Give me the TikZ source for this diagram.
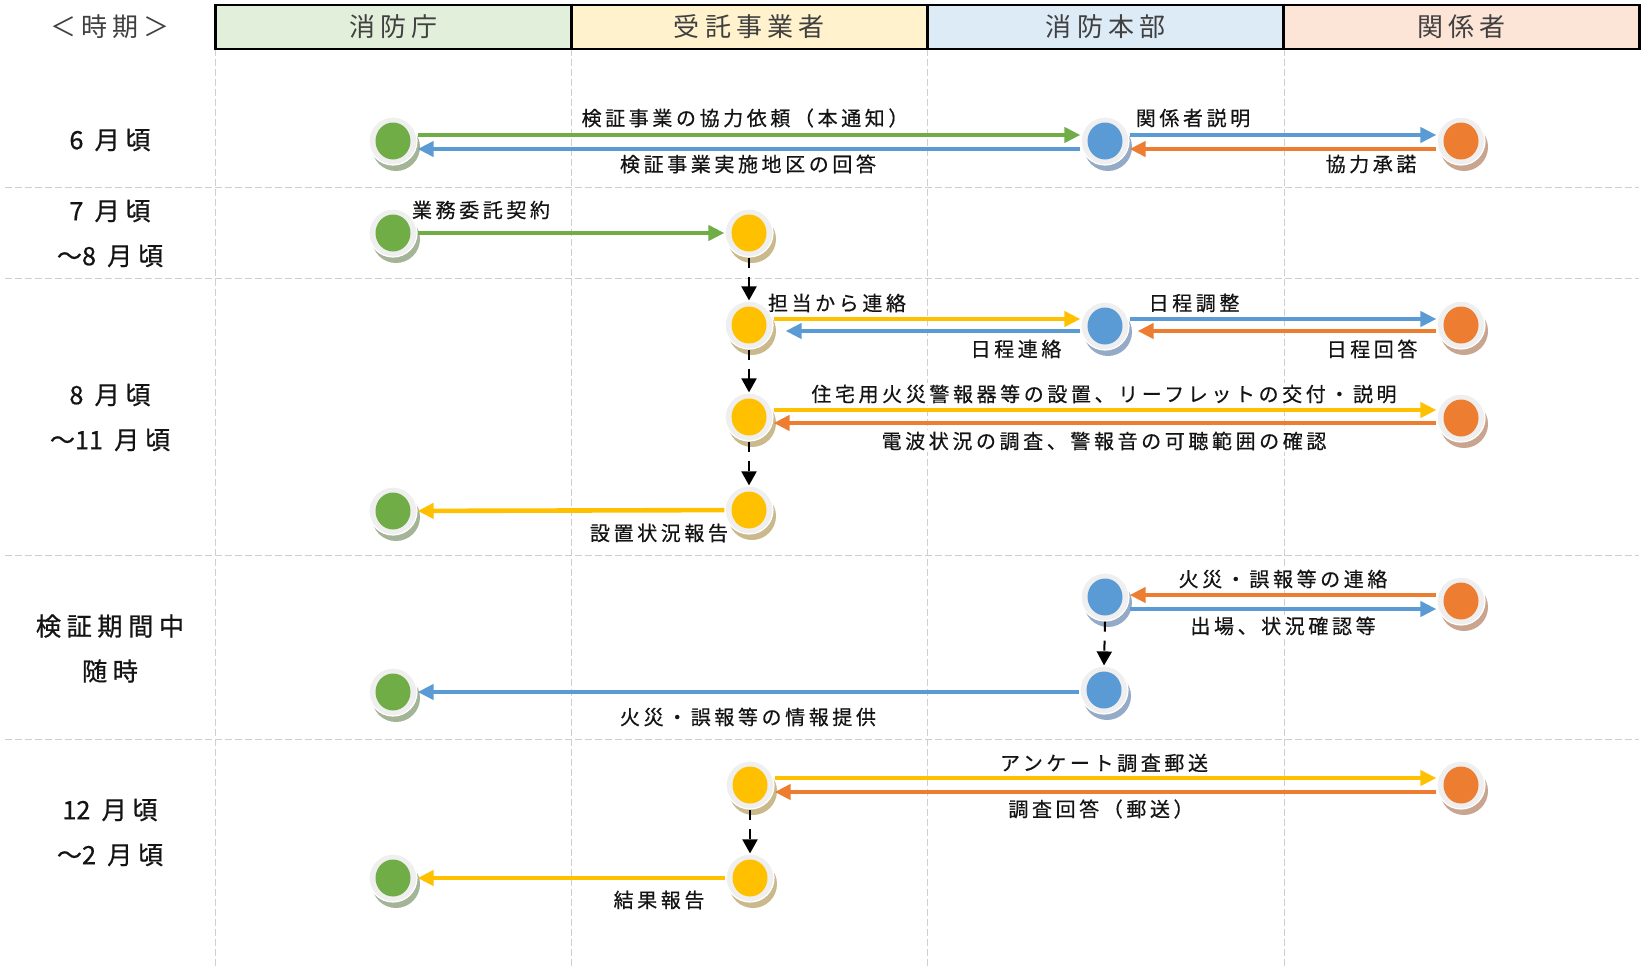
\documentclass[tikz,border=0pt]{standalone}
\usepackage{fontspec}
\setmainfont{Noto Sans CJK JP}
\newfontfamily\lblfont[LetterSpace=18,FakeBold=0.5]{Noto Sans CJK JP}
\newfontfamily\perfont[LetterSpace=22,FakeBold=0.7]{Noto Sans CJK JP}
\newfontfamily\perdig[FakeBold=0.7]{Noto Sans CJK JP}
\newfontfamily\hdrfont[LetterSpace=20]{Noto Sans CJK JP}
\newcommand\dg[1]{{\perdig #1}}
\usetikzlibrary{arrows.meta,calc,shadows}
\definecolor{cg}{HTML}{70AD47}
\definecolor{cy}{HTML}{FFC000}
\definecolor{cb}{HTML}{5B9BD5}
\definecolor{co}{HTML}{ED7D31}
\definecolor{sg}{HTML}{A4B497}
\definecolor{sy}{HTML}{C9B98B}
\definecolor{sb}{HTML}{94AAC6}
\definecolor{so}{HTML}{C9A48E}
\definecolor{ringc}{HTML}{EFEFEF}
\definecolor{hg}{HTML}{E2EFDA}
\definecolor{hy}{HTML}{FFF2CC}
\definecolor{hb}{HTML}{DDEBF7}
\definecolor{ho}{HTML}{FCE4D6}
\definecolor{gridc}{HTML}{CFCFCF}
\definecolor{txt}{HTML}{141414}
\definecolor{htxt}{HTML}{404040}
\tikzset{
  dot/.style 2 args={circle, minimum size=24pt, inner sep=0pt, fill=ringc, draw=white, line width=0.6pt,
    drop shadow={shadow xshift=1.5pt, shadow yshift=-3pt, fill=#2, opacity=1, draw=none},
    path picture={\fill[#1] (path picture bounding box.center) ellipse [x radius=8.75pt, y radius=9.25pt];}},
  ar/.style={line width=2.3pt, -{Triangle[length=8pt,width=7.5pt]}},
  flow/.style={black, line width=1pt, dash pattern=on 5pt off 4.5pt, -{Triangle[length=7pt,width=7.5pt]}},
  lab/.style={font=\lblfont\fontsize{10pt}{12pt}\selectfont, text=txt, inner sep=1pt, fill=white},
  per/.style={font=\perfont\fontsize{12.6pt}{22.5pt}\selectfont, text=txt, align=center, inner sep=0pt},
  hcell/.style={draw=black, line width=1.25pt, minimum width=177.9pt, minimum height=22pt, inner sep=0pt,
    font=\hdrfont\fontsize{13pt}{14pt}\selectfont, text=htxt},
  gridline/.style={gridc, line width=0.5pt, dash pattern=on 3.5pt off 1.5pt}
}
\begin{document}
\begin{tikzpicture}[x=0.5pt,y=-0.5pt]
\useasboundingbox (0,0) rectangle (1641,969);
% grid
\draw[gridline] (5,187.5) -- (1639,187.5);
\draw[gridline] (5,278.5) -- (1639,278.5);
\draw[gridline] (5,555) -- (1639,555);
\draw[gridline] (5,739) -- (1639,739);
\draw[gridline] (215.6,49) -- (215.6,969);
\draw[gridline] (571.4,49) -- (571.4,969);
\draw[gridline] (927.3,49) -- (927.3,969);
\draw[gridline] (1284.2,49) -- (1284.2,969);
% header
\node[hcell, fill=hg] (h1) at (393.5,27) {消防庁};
\node[hcell, fill=hy] (h2) at (749.35,27) {受託事業者};
\node[hcell, fill=hb] (h3) at (1105.75,27) {消防本部};
\node[hcell, fill=ho] (h4) at (1461.6,27) {関係者};
\node[font=\hdrfont\fontsize{13pt}{14pt}\selectfont, text=htxt] (hp) at (110,27) {＜時期＞};
% period labels
\node[per] (p1) at (110,140) {\dg{6} 月頃};
\node[per] (p2) at (110,233.5) {7 月頃\\～\dg{8} 月頃};
\node[per] (p3) at (110,417.5) {\dg{8} 月頃\\～\dg{11} 月頃};
\node[per] (p4) at (110,648.5) {検証期間中\\随時};
\node[per] (p5) at (110,832.5) {\dg{12} 月頃\\～\dg{2} 月頃};
% labels
\node[lab] (l1a) at (745,118) {検証事業の協力依頼（本通知）};
\node[lab] (l1b) at (748,164) {検証事業実施地区の回答};
\node[lab] (l1c) at (1193,118) {関係者説明};
\node[lab] (l1d) at (1371,164) {協力承諾};
\node[lab] (l2) at (481,210) {業務委託契約};
\node[lab] (l3a) at (837,303) {担当から連絡};
\node[lab] (l3b) at (1016,349) {日程連絡};
\node[lab] (l3c) at (1194,303) {日程調整};
\node[lab] (l3d) at (1372,349) {日程回答};
\node[lab] (l3e) at (1104,394) {住宅用火災警報器等の設置、リーフレットの交付・説明};
\node[lab] (l3f) at (1104,441) {電波状況の調査、警報音の可聴範囲の確認};
\node[lab] (l3g) at (659,533) {設置状況報告};
\node[lab] (l4a) at (1283,579) {火災・誤報等の連絡};
\node[lab] (l4b) at (1283,626) {出場、状況確認等};
\node[lab] (l4c) at (748,717) {火災・誤報等の情報提供};
\node[lab] (l5a) at (1104,763) {アンケート調査郵送};
\node[lab] (l5b) at (1101,809) {調査回答（郵送）};
\node[lab] (l5c) at (659,900) {結果報告};
% nodes
\node[dot={cg}{sg}] (G1) at (393,141) {};
\node[dot={cb}{sb}] (B1) at (1105,141) {};
\node[dot={co}{so}] (O1) at (1461,141) {};
\node[dot={cg}{sg}] (G2) at (393,233) {};
\node[dot={cy}{sy}] (Y2) at (749,233) {};
\node[dot={cy}{sy}] (Y3) at (749,325) {};
\node[dot={cb}{sb}] (B3) at (1105,326) {};
\node[dot={co}{so}] (O3) at (1461,325) {};
\node[dot={cy}{sy}] (Y4) at (749,417) {};
\node[dot={co}{so}] (O4) at (1461,418) {};
\node[dot={cg}{sg}] (G5) at (393,511) {};
\node[dot={cy}{sy}] (Y5) at (749,510) {};
\node[dot={cb}{sb}] (B6) at (1105,597) {};
\node[dot={co}{so}] (O6) at (1461,601) {};
\node[dot={cg}{sg}] (G7) at (393,692) {};
\node[dot={cb}{sb}] (B7) at (1104,690) {};
\node[dot={cy}{sy}] (Y8) at (750,785) {};
\node[dot={co}{so}] (O8) at (1461,785) {};
\node[dot={cg}{sg}] (G9) at (393,878) {};
\node[dot={cy}{sy}] (Y9) at (750,878) {};
% arrows
\draw[ar,cg] ($(G1.east)+(0,-6)$) -- ($(B1.west)+(0,-6)$);
\draw[ar,cb] ($(B1.west)+(0,8)$) -- ($(G1.east)+(0,8)$);
\draw[ar,cb] ($(B1.east)+(0,-6)$) -- ($(O1.west)+(0,-6)$);
\draw[ar,co] ($(O1.west)+(0,8)$) -- ($(B1.east)+(0,8)$);
\draw[ar,cg] (G2) -- (Y2);
\draw[ar,cy] ($(Y3.east)+(0,-6)$) -- (B3.west |- 0,319);
\draw[ar,cb] (B3.west |- 0,331) -- ($(Y3.east)+(12,6)$);
\draw[ar,cb] ($(B3.east)+(0,-7)$) -- (O3.west |- 0,319);
\draw[ar,co] (O3.west |- 0,331) -- ($(B3.east)+(8,5)$);
\draw[ar,cy] ($(Y4.east)+(0,-7)$) -- ($(O4.west)+(0,-8)$);
\draw[ar,co] ($(O4.west)+(0,5)$) -- ($(Y4.east)+(0,6)$);
\draw[ar,cy] (Y5) -- (G5);
\draw[ar,co] (O6.west |- 0,595) -- (B6.east |- 0,595);
\draw[ar,cb] (B6.east |- 0,609) -- (O6.west |- 0,609);
\draw[ar,cb] (B7.west |- G7.east) -- (G7.east);
\draw[ar,cy] ($(Y8.east)+(0,-7)$) -- ($(O8.west)+(0,-7)$);
\draw[ar,co] ($(O8.west)+(0,7)$) -- ($(Y8.east)+(0,7)$);
\draw[ar,cy] (Y9) -- (G9);
% flow arrows
\draw[flow] (Y2.south) -- (Y3.north);
\draw[flow] (Y3.south) -- (Y4.north);
\draw[flow] (Y4.south) -- (Y5.north);
\draw[flow] (B6.south) -- (B7.north);
\draw[flow] (Y8.south) -- (Y9.north);
\end{tikzpicture}
\end{document}
